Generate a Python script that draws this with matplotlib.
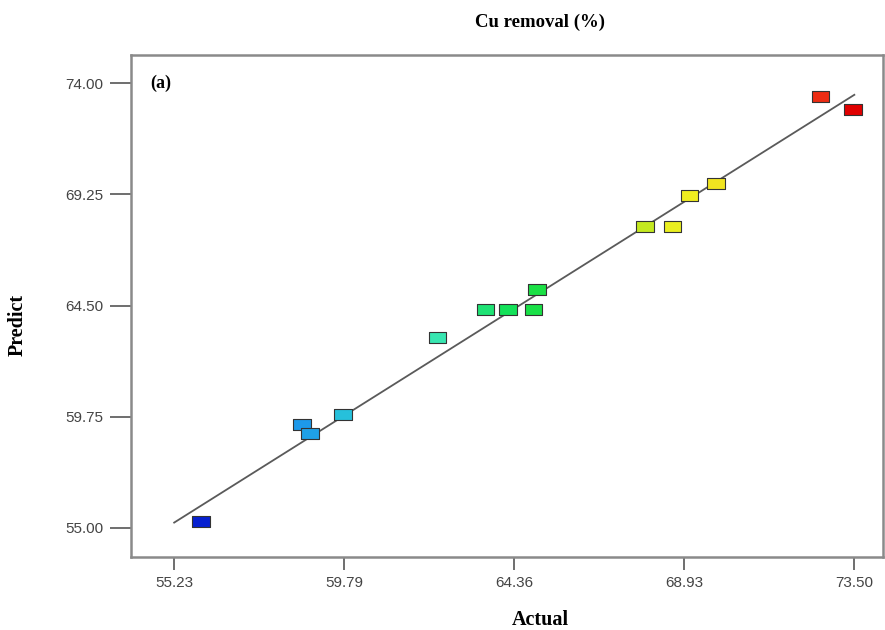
import matplotlib
matplotlib.use("Agg")
import matplotlib.pyplot as plt
import numpy as np
from matplotlib.colors import LinearSegmentedColormap, Normalize

# -----------------------------
# Data
# -----------------------------

actual = [55.95, 58.67, 58.88, 59.77, 62.30, 63.59, 64.20, 64.88, 64.98,
          67.88, 68.61, 69.07, 69.79, 72.59, 73.47]
predicted = [55.26, 59.41, 59.03, 59.84, 63.13, 64.31, 64.31, 64.31, 65.18,
             67.88, 67.88, 69.18, 69.72, 73.44, 72.89]

x_ticks = [55.23, 59.79, 64.36, 68.93, 73.50]
y_ticks = [55.00, 59.75, 64.50, 69.25, 74.00]

# -----------------------------
# Style
# -----------------------------

SERIF = ["Liberation Serif", "DejaVu Serif"]
NARROW = ["Liberation Sans Narrow", "Liberation Sans", "DejaVu Sans"]
FRAME = "#8a8a8a"

cmap = LinearSegmentedColormap.from_list(
    "de",
    [(0.0, "#0000c8"), (0.18, "#1c94ec"), (0.26, "#28c8d8"), (0.39, "#38e6b0"),
     (0.5, "#10e050"), (0.55, "#20e040"), (0.69, "#c0e820"), (0.74, "#f0f020"),
     (0.82, "#f0e020"), (0.94, "#f03818"), (1.0, "#e00000")],
)
norm = Normalize(vmin=55.23, vmax=73.50)

# rectangular marker (wider than tall)
rect = [(-0.8, -0.5), (0.8, -0.5), (0.8, 0.5), (-0.8, 0.5), (-0.8, -0.5)]

fig = plt.figure(figsize=(8.85, 6.3), dpi=100)
ax = fig.add_axes([131 / 885, 1 - 557 / 630, 752 / 885, 502 / 630])

ax.plot([x_ticks[0], x_ticks[-1]], [x_ticks[0], x_ticks[-1]],
        color="#5a5a5a", lw=1.3, zorder=2)
ax.scatter(actual, predicted, c=actual, cmap=cmap, norm=norm, marker=rect,
           s=160, edgecolors="#333333", linewidths=0.8, zorder=3)

ax.set_xlim(54.07, 74.27)
ax.set_ylim(53.76, 75.20)

ax.set_xticks(x_ticks)
ax.set_xticklabels([f"{v:.2f}" for v in x_ticks], family=NARROW, fontsize=11,
                   color="#444444")
ax.set_yticks(y_ticks)
ax.set_yticklabels([f"{v:.2f}" for v in y_ticks], family=NARROW, fontsize=11,
                   color="#444444")
ax.tick_params(axis="x", direction="out", length=9, width=1.2, color="#555555", pad=5)
ax.tick_params(axis="y", direction="out", length=15, width=1.2, color="#555555", pad=5)

for spine in ax.spines.values():
    spine.set_color(FRAME)
    spine.set_linewidth(1.8)

ax.text(0.026, 0.944, "(a)", transform=ax.transAxes, family=SERIF,
        fontweight="bold", fontsize=13, va="center", ha="left")

fig.text(540 / 885, 1 - 22 / 630, "Cu removal (%)", family=SERIF, fontweight="bold",
         fontsize=13.5, ha="center", va="center")
fig.text(540 / 885, 1 - 620 / 630, "Actual", family=SERIF, fontweight="bold",
         fontsize=14.5, ha="center", va="center")
fig.text(18 / 885, 1 - 325 / 630, "Predict", family=SERIF, fontweight="bold",
         fontsize=14.5, ha="center", va="center", rotation=90)

fig.savefig("out.png", dpi=100, facecolor="white")
